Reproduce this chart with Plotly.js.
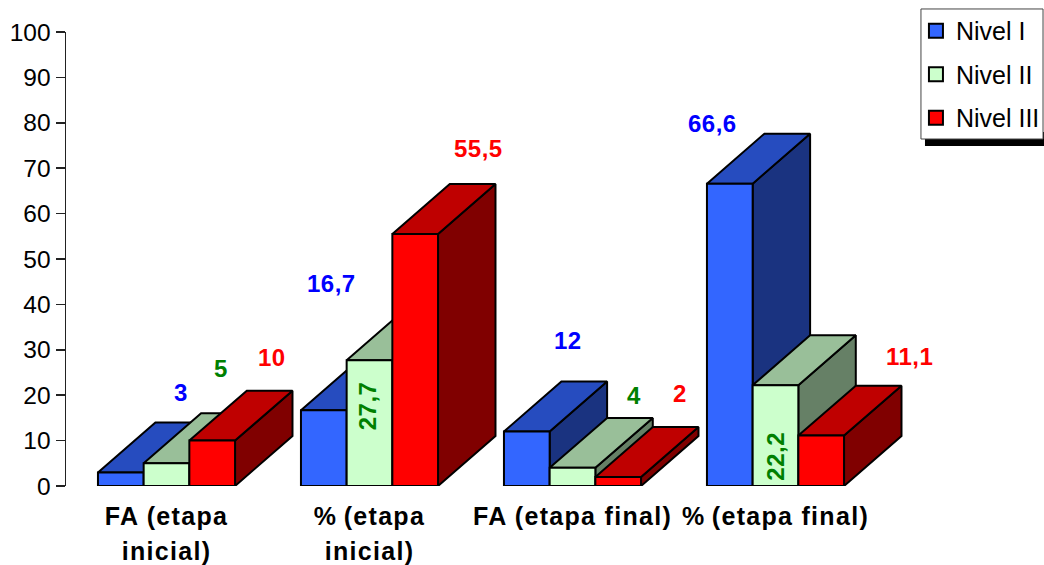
<!DOCTYPE html>
<html>
<head>
<meta charset="utf-8">
<script src="https://cdn.plot.ly/plotly-3.0.1.min.js"></script>
<style>
html,body{margin:0;padding:0;background:#fff}
.xtick text{letter-spacing:1.3px}
.annotation-text{letter-spacing:0.5px}
</style>
</head>
<body>
<div id="chart" style="width:1044px;height:565px"></div>
<script>
const categories = ['FA (etapa<br>inicial)', '%\u2009(etapa<br>inicial)', 'FA (etapa final)', '%\u2009(etapa final)'];
const nivelI = [3, 16.7, 12, 66.6];
const nivelII = [5, 27.7, 4, 22.2];
const nivelIII = [10, 55.5, 2, 11.1];
const seriesNames = ['Nivel I', 'Nivel II', 'Nivel III'];

const frontColors = ['#3366FF', '#CCFFCC', '#FF0000'];
const topColors = ['#264CBF', '#99BF99', '#BF0000'];
const sideColors = ['#1A3380', '#668066', '#800000'];
const textColors = ['#0000FF', '#008000', '#FF0000'];

// label offsets from each bar's top centre, in pixels
const shiftX = [[60, 8, 41, -17], [54.5, -2.5, 61, 0], [60, 63, 62, 88.5]];
const shiftY = [[80, 127, 91, 60], [95, -46, 72, -71], [83, 86, 83, 79]];
const rotated = [[0,0,0,0],[0,1,0,1],[0,0,0,0]];

const barW = 0.2251, depthX = 0.283, depthY = 11;
const all = [nivelI, nivelII, nivelIII];
const font = 'Liberation Sans, Arial, sans-serif';
const traces = [], annotations = [];

function poly(color, name, fn, vals, s) {
  const x = [], y = [];
  vals.forEach((v, i) => {
    const l = i + (s - 1.5) * barW, r = l + barW;
    fn(l, r, v).forEach(p => { x.push(p[0]); y.push(p[1]); });
    x.push(null); y.push(null);
  });
  traces.push({type: 'scatter', mode: 'lines', x, y, fill: 'toself', fillcolor: color,
    line: {color: '#000', width: 2}, showlegend: false, hoverinfo: 'skip', name});
}

all.forEach((vals, s) => {
  poly(sideColors[s], seriesNames[s], (l, r, v) => [[r, 0], [r + depthX, depthY], [r + depthX, v + depthY], [r, v], [r, 0]], vals, s);
  poly(topColors[s], seriesNames[s], (l, r, v) => [[l, v], [l + depthX, v + depthY], [r + depthX, v + depthY], [r, v], [l, v]], vals, s);
  poly(frontColors[s], seriesNames[s], (l, r, v) => [[l, 0], [l, v], [r, v], [r, 0], [l, 0]], vals, s);
  vals.forEach((v, i) => {
    annotations.push({x: i + (s - 1) * barW, y: v, xref: 'x', yref: 'y', xshift: shiftX[s][i], yshift: shiftY[s][i],
      text: String(v).replace('.', ','), showarrow: false, xanchor: 'center', yanchor: 'middle',
      textangle: rotated[s][i] ? -90 : 0,
      font: {family: font, size: 24, color: textColors[s], weight: 700}});
  });
});

seriesNames.forEach((n, s) => {
  traces.push({type: 'scatter', mode: 'markers', x: [null], y: [null], name: n, legendgroup: n,
    marker: {symbol: 'square', size: 14, color: frontColors[s], line: {color: '#000', width: 2}}, hoverinfo: 'skip'});
});

const layout = {
  width: 1044, height: 565,
  margin: {l: 66, r: 0, t: 32, b: 79, autoexpand: false},
  paper_bgcolor: '#fff', plot_bgcolor: '#fff',
  showlegend: true,
  font: {family: font, color: '#000'},
  xaxis: {range: [-0.4951, 4.3227], tickmode: 'array', tickvals: [0, 1, 2, 3],
    ticktext: categories.map(c => c.split('<br>').map(t => '<span style="font-size:25px;font-weight:700">' + t + '</span>').join('<br>')),
    tickfont: {family: font, size: 27, color: '#000'}, tickangle: 0, ticklabelstandoff: 11,
    showgrid: false, zeroline: false, showline: false, ticks: '', automargin: false},
  yaxis: {range: [0, 100], dtick: 10, tick0: 0, showgrid: false, zeroline: false, showline: true,
    linecolor: '#222', linewidth: 1.5, ticks: 'outside', ticklen: 9, tickwidth: 1.5, tickcolor: '#222',
    tickfont: {family: font, size: 24.5, color: '#000'}, automargin: false},
  legend: {x: 0.8752, y: 1.0531, xanchor: 'left', yanchor: 'top', bgcolor: 'rgba(0,0,0,0)', borderwidth: 0,
    font: {family: font, size: 25, color: '#000'}, traceorder: 'grouped', tracegroupgap: 8, indentation: -6},
  shapes: [
    {type: 'rect', xref: 'paper', yref: 'paper', x0: 0.8783, x1: 1.0, y0: 0.7489, y1: 0.78,
     fillcolor: '#000', line: {width: 0}, layer: 'above'},
    {type: 'rect', xref: 'paper', yref: 'paper', x0: 0.8742, x1: 0.9990, y0: 0.7643, y1: 1.0507,
     fillcolor: '#fff', line: {color: '#444', width: 1}, layer: 'above'}
  ],
  annotations
};
Plotly.newPlot('chart', traces, layout, {displayModeBar: false, staticPlot: true});
</script>
</body>
</html>
